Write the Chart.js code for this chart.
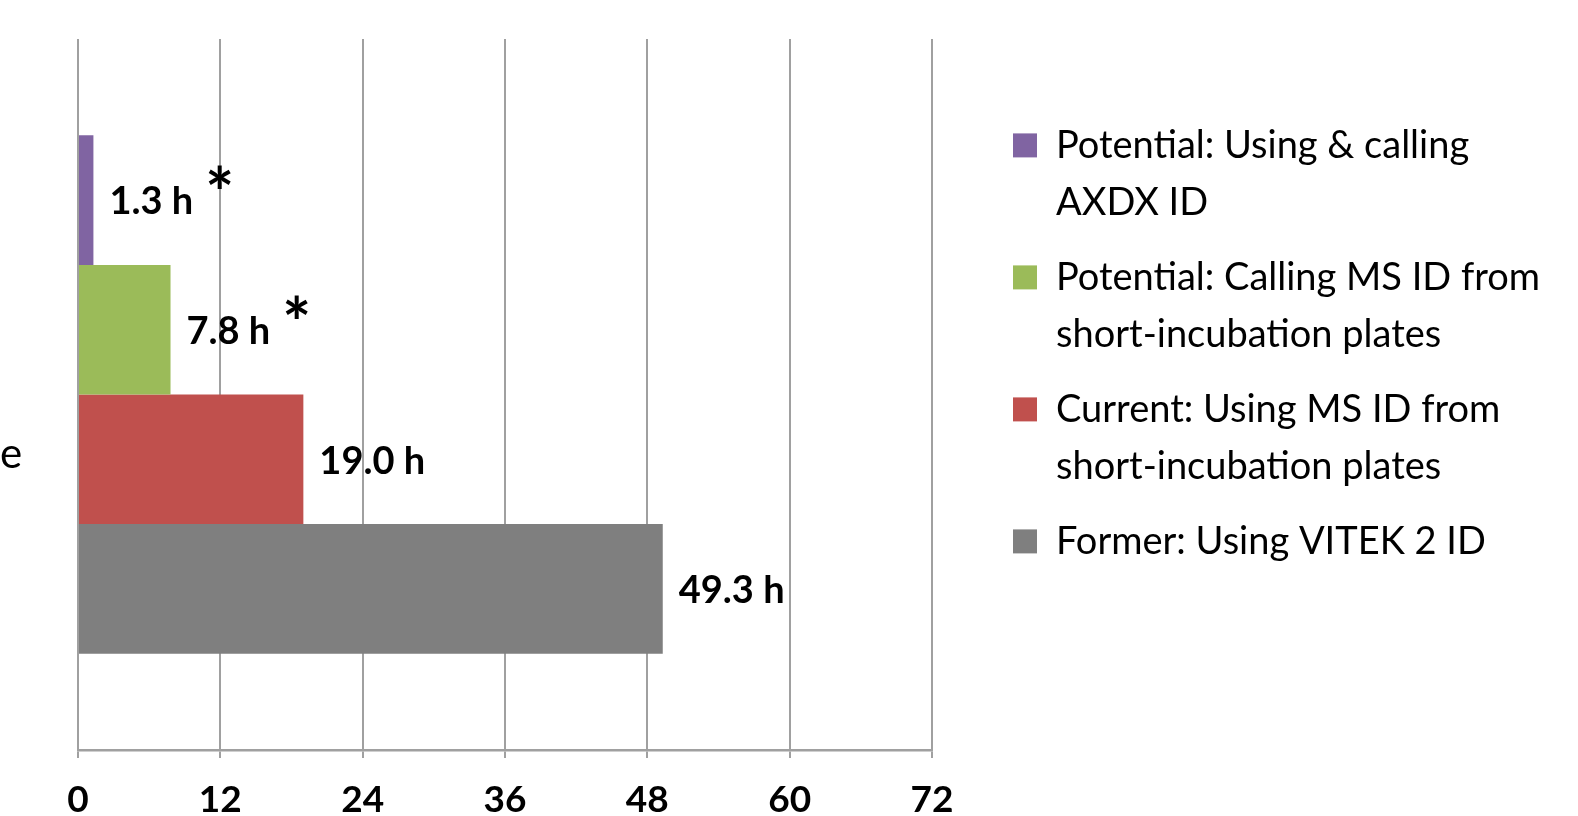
<!DOCTYPE html>
<html>
<head>
<meta charset="utf-8">
<script src="https://cdn.jsdelivr.net/npm/chart.js@4.4.1/dist/chart.umd.min.js"></script>
<style>
  html, body { margin: 0; padding: 0; background: #ffffff; }
  #wrap { width: 1578px; height: 816px; }
</style>
</head>
<body>
<div id="wrap"><canvas id="c" width="1578" height="816"></canvas></div>
<script>
// ---- data ----
const categories = ['e'];
const seriesLabels = [
  ['Potential: Using & calling', 'AXDX ID'],
  ['Potential: Calling MS ID from', 'short-incubation plates'],
  ['Current: Using MS ID from', 'short-incubation plates'],
  ['Former: Using VITEK 2 ID']
];
const seriesValues = [1.3, 7.8, 19.0, 49.3];
const seriesMarked = [true, true, false, false];
const seriesColors = ['#8064A2', '#9BBB59', '#C0504D', '#7F7F7F'];
const xTicks = [0, 12, 24, 36, 48, 60, 72];

// ---- fonts / layout helpers ----
const FONT = 'Lato';
const legendFontSize = 38;
const legendBox = 24;
const legendPad = 16;
const measure = document.createElement('canvas').getContext('2d');
measure.font = legendFontSize + 'px ' + FONT;
let longest = '';
seriesLabels.forEach(l => l.forEach(s => { if (s.length > longest.length) longest = s; }));
const longestW = measure.measureText(longest).width;
const legendWidth = legendPad + 2 + legendBox + legendFontSize / 2 + longestW + 10;
const plotRight = 932;
const legendLeft = 995;
const padRight = Math.max(0, 1578 - legendLeft - legendWidth);

const datasets = seriesValues.map((v, i) => ({
  label: seriesLabels[i],
  data: [v],
  backgroundColor: seriesColors[i],
  borderWidth: 0,
  barPercentage: 1.0,
  categoryPercentage: 0.729,
  xAxisID: 'x',
  yAxisID: 'y'
}));

const valueLabels = {
  id: 'valueLabels',
  afterDatasetsDraw(chart) {
    const ctx = chart.ctx;
    ctx.save();
    chart.data.datasets.forEach((ds, i) => {
      const meta = chart.getDatasetMeta(i);
      const bar = meta.data[0];
      if (!bar) return;
      const txt = seriesValues[i].toFixed(1) + ' h';
      ctx.font = 'bold 38px ' + FONT;
      ctx.fillStyle = '#000';
      ctx.textAlign = 'left';
      ctx.textBaseline = 'middle';
      const x0 = bar.x + 16;
      ctx.fillText(txt, x0, bar.y + 2);
      if (seriesMarked[i]) {
        const w = ctx.measureText(txt).width;
        ctx.font = 'bold 68px ' + FONT;
        ctx.fillText('*', x0 + w + 12, bar.y - 4);
      }
    });
    ctx.restore();
  }
};

new Chart(document.getElementById('c'), {
  type: 'bar',
  data: { labels: categories, datasets },
  options: {
    indexAxis: 'y',
    responsive: false,
    animation: false,
    layout: { padding: { top: 39, left: 0, right: padRight, bottom: 0 } },
    plugins: {
      tooltip: { enabled: false },
      legend: {
        position: 'right',
        align: 'start',
        maxWidth: 800,
        title: { display: true, text: '', font: { size: 12, lineHeight: 1.2 }, padding: { top: 55, bottom: 0 } },
        labels: {
          boxWidth: legendBox,
          boxHeight: legendBox,
          padding: legendPad + 2,
          color: '#000',
          font: { family: FONT, size: legendFontSize, lineHeight: 57 / legendFontSize }
        }
      }
    },
    scales: {
      x: {
        type: 'linear',
        position: 'bottom',
        min: 0,
        max: 72,
        afterBuildTicks(scale) { scale.ticks = xTicks.map(v => ({ value: v })); },
        afterFit(scale) { scale.height = 66; },
        grid: { color: '#a0a0a0', lineWidth: 2, drawTicks: true, tickLength: 8 },
        border: { display: true, color: '#a0a0a0', width: 2.5 },
        ticks: {
          color: '#000',
          padding: 24,
          font: { family: FONT, size: 37, weight: 'bold', lineHeight: 1.0 }
        }
      },
      y: {
        type: 'category',
        position: 'left',
        afterFit(scale) { scale.width = 78; },
        grid: { display: false, drawTicks: false },
        border: { display: false },
        ticks: {
          color: '#000',
          padding: 0,
          crossAlign: 'far',
          labelOffset: 60,
          font: { family: FONT, size: 42 }
        }
      },
      yPad: {
        type: 'linear',
        position: 'right',
        display: true,
        afterFit(scale) { scale.width = legendLeft - plotRight; },
        grid: { display: false, drawTicks: false },
        border: { display: false },
        ticks: { display: false }
      }
    }
  },
  plugins: [valueLabels]
});
</script>
</body>
</html>
